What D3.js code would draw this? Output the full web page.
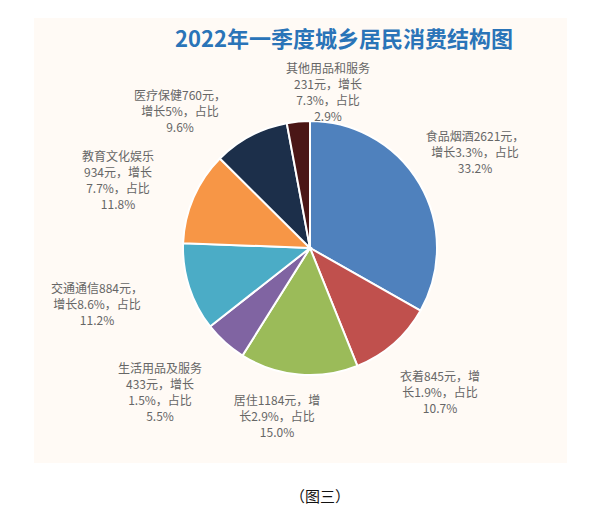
<!DOCTYPE html>
<html><head><meta charset="utf-8">
<script src="https://cdn.jsdelivr.net/npm/d3@7"></script>
<style>body{margin:0;background:#fff}svg{display:block}</style>
</head><body>
<script>
const categories = ["食品烟酒","衣着","居住","生活用品及服务","交通通信","教育文化娱乐","医疗保健","其他用品和服务"];
const values = [2621, 845, 1184, 433, 884, 934, 760, 231];
const growth = ["3.3%","1.9%","2.9%","1.5%","8.6%","7.7%","5%","7.3%"];
const shares = ["33.2%","10.7%","15.0%","5.5%","11.2%","11.8%","9.6%","2.9%"];
const colors = ["#4f81bd","#c0504d","#9bbb59","#8064a2","#4bacc6","#f79646","#1c2f4a","#4a1616"];

// layout only: label anchor + line break lengths
const labelLayout = [
  {x:475,y:137,breaks:[10,9]},
  {x:440,y:377,breaks:[8,8]},
  {x:277,y:401,breaks:[9,8]},
  {x:160,y:369,breaks:[7,7,7]},
  {x:97,y:289,breaks:[9,9]},
  {x:118,y:157,breaks:[6,7,7]},
  {x:180,y:96,breaks:[9,7]},
  {x:328,y:69,breaks:[7,7,7]}
];

const W=600,H=511;
const svg=d3.select("body").append("svg").attr("width",W).attr("height",H);
svg.append("rect").attr("x",34).attr("y",18).attr("width",533).attr("height",445).attr("fill","#fffaf5");

svg.append("text").attr("x",344).attr("y",47).attr("text-anchor","middle")
  .attr("font-family","'Noto Sans CJK SC',sans-serif").attr("font-weight","bold")
  .attr("font-size",22).attr("fill","#2a74b8").text("2022年一季度城乡居民消费结构图");

const data = categories.map((c,i)=>({c,v:values[i],g:growth[i],s:shares[i],col:colors[i]}));
const pie=d3.pie().value(d=>d.v).sort(null);
const arc=d3.arc().innerRadius(0).outerRadius(127);
const g=svg.append("g").attr("transform","translate(310,248)");
g.selectAll("path").data(pie(data)).join("path").attr("d",arc)
  .attr("fill",d=>d.data.col).attr("stroke","#fff").attr("stroke-width",2);

data.forEach((d,i)=>{
  const full=`${d.c}${d.v}元，增长${d.g}，占比${d.s}`;
  const L=labelLayout[i];
  const lines=[];let p=0;
  L.breaks.forEach(b=>{lines.push(full.slice(p,p+b));p+=b;});
  lines.push(full.slice(p));
  const t=svg.append("text").attr("text-anchor","middle")
    .attr("font-family","'Noto Sans CJK SC',sans-serif").attr("font-size",12).attr("fill","#666");
  lines.forEach((ln,k)=>t.append("tspan").attr("x",L.x).attr("y",L.y+4+k*16).text(ln));
});

svg.append("text").attr("x",320).attr("y",502).attr("text-anchor","middle")
  .attr("font-family","'Noto Sans CJK SC',sans-serif").attr("font-size",15).attr("fill","#111").text("（图三）");
</script>
</body></html>
